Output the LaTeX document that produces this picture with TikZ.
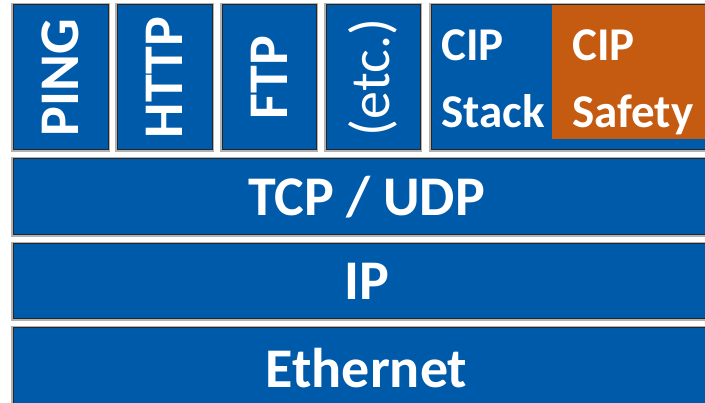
\documentclass[tikz,border=0pt]{standalone}
\usepackage{fontspec}
\setmainfont{Carlito}
\definecolor{layerblue}{HTML}{005AAA}
\definecolor{safeorange}{HTML}{C55A11}
\begin{document}
\begin{tikzpicture}[x=1pt,y=-1pt,
	layer/.style={fill=layerblue,draw=black!85,line width=1pt,
		preaction={draw=black!30,line width=3.5pt},
		text=white,inner sep=0pt,font=\fontsize{56}{60}\selectfont\bfseries},
	app/.style={layer,rotate=90,minimum width=145pt,minimum height=95pt},
	band/.style={layer,minimum width=707pt},
	label/.style={text=white,inner sep=0pt,align=left,anchor=north west,
		font=\fontsize{47}{67}\selectfont\bfseries}]
\useasboundingbox (0,0) rectangle (705,403);
\clip (0,0) rectangle (705,403);
% application boxes
\node[app] (ping) at (60.5,77.5) {PING};
\node[app] (http) at (164.5,77.5) {HTTP};
\node[app,minimum height=94pt] (ftp) at (269,77.5) {FTP};
\node[app,minimum height=94pt,font=\fontsize{56}{60}\selectfont] (etc) at (373,77.5) {(etc.)};
\node[layer,minimum width=289pt,minimum height=145pt] (cip) at (575.5,77.5) {};
\node[fill=safeorange,inner sep=0pt,anchor=north west,minimum width=170pt,minimum height=134.5pt] (safe) at (552,4.5) {};
\node[label] (ciptext) at (441,29) {CIP\\Stack};
\node[label] (safetext) at (572,29) {CIP\\Safety};
% lower layers
\node[band,minimum height=76pt] (tcp) at (366.5,197) {TCP / UDP};
\node[band,minimum height=75pt] (ip) at (366.5,281.5) {IP};
\node[band,minimum height=80pt] (eth) at (366.5,368) {Ethernet};
\end{tikzpicture}
\end{document}
